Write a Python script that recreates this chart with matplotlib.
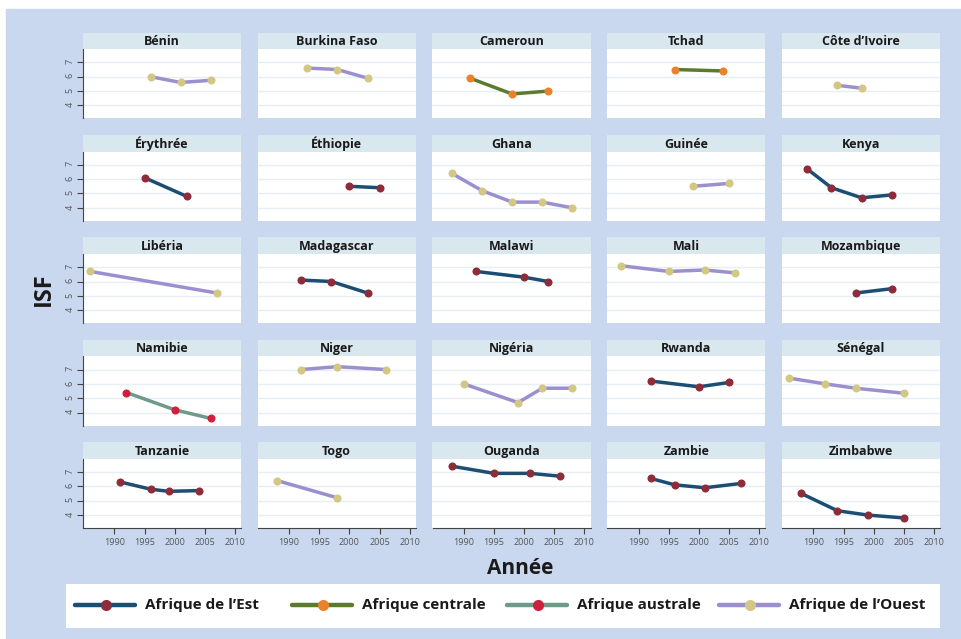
import matplotlib
matplotlib.use('Agg')
import matplotlib.pyplot as plt
from matplotlib.patches import Rectangle

# Pays dans l'ordre des panneaux (5 x 5)
pays = ['Bénin', 'Burkina Faso', 'Cameroun', 'Tchad', 'Côte d’Ivoire',
        'Érythrée', 'Éthiopie', 'Ghana', 'Guinée', 'Kenya',
        'Libéria', 'Madagascar', 'Malawi', 'Mali', 'Mozambique',
        'Namibie', 'Niger', 'Nigéria', 'Rwanda', 'Sénégal',
        'Tanzanie', 'Togo', 'Ouganda', 'Zambie', 'Zimbabwe']

regions = ['Ouest', 'Ouest', 'Centrale', 'Centrale', 'Ouest',
           'Est', 'Est', 'Ouest', 'Ouest', 'Est',
           'Ouest', 'Est', 'Est', 'Ouest', 'Est',
           'Australe', 'Ouest', 'Ouest', 'Est', 'Ouest',
           'Est', 'Ouest', 'Est', 'Est', 'Est']

annees = [[1996, 2001, 2006], [1993, 1998, 2003], [1991, 1998, 2004], [1996, 2004], [1994, 1998],
          [1995, 2002], [2000, 2005], [1988, 1993, 1998, 2003, 2008], [1999, 2005], [1989, 1993, 1998, 2003],
          [1986, 2007], [1992, 1997, 2003], [1992, 2000, 2004], [1987, 1995, 2001, 2006], [1997, 2003],
          [1992, 2000, 2006], [1992, 1998, 2006], [1990, 1999, 2003, 2008], [1992, 2000, 2005], [1986, 1992, 1997, 2005],
          [1991, 1996, 1999, 2004], [1988, 1998], [1988, 1995, 2001, 2006], [1992, 1996, 2001, 2007], [1988, 1994, 1999, 2005]]

isf = [[6.0, 5.6, 5.75], [6.6, 6.5, 5.9], [5.9, 4.8, 5.0], [6.5, 6.4], [5.4, 5.2],
       [6.1, 4.8], [5.5, 5.4], [6.4, 5.2, 4.4, 4.4, 4.0], [5.5, 5.7], [6.7, 5.4, 4.7, 4.9],
       [6.7, 5.2], [6.1, 6.0, 5.2], [6.7, 6.3, 6.0], [7.1, 6.7, 6.8, 6.6], [5.2, 5.5],
       [5.4, 4.2, 3.6], [7.0, 7.2, 7.0], [6.0, 4.7, 5.7, 5.7], [6.2, 5.8, 6.1], [6.4, 6.0, 5.7, 5.35],
       [6.3, 5.8, 5.65, 5.7], [6.4, 5.2], [7.4, 6.9, 6.9, 6.7], [6.55, 6.1, 5.9, 6.2], [5.5, 4.3, 4.0, 3.8]]

legende = ['Est', 'Centrale', 'Australe', 'Ouest']
legende_txt = ['Afrique de l’Est', 'Afrique centrale', 'Afrique australe', 'Afrique de l’Ouest']

# couleur de ligne, couleur de marqueur
couleurs = {'Est': ('#1b4e72', '#8e2c3a'),
            'Centrale': ('#5b7b2f', '#e9822b'),
            'Australe': ('#6e9a8a', '#cf1f3c'),
            'Ouest': ('#9b8fd0', '#d3c784')}

police = ['Liberation Sans Narrow', 'Open Sans', 'DejaVu Sans']
plt.rcParams['font.family'] = police

W, H = 962, 639
fig = plt.figure(figsize=(W / 100, H / 100), dpi=100, facecolor='white')


def boite(x, y, w, h):
    # position en pixels (origine en haut à gauche) -> coordonnées figure
    return [x / W, 1 - (y + h) / H, w / W, h / H]


fig.patches.append(Rectangle((6 / W, 0), 1 - 6 / W, 1 - 9 / H,
                             transform=fig.transFigure, color='#c9d8ee', zorder=-10))

x0, pas_x, larg = 83, 174.75, 158
y0, pas_y, h_bande, h_trace = 32.6, 102.4, 16.5, 69.3

for i, nom in enumerate(pays):
    lig, col = divmod(i, 5)
    gx = x0 + col * pas_x
    gy = y0 + lig * pas_y

    bande = fig.add_axes(boite(gx, gy, larg, h_bande))
    bande.set_facecolor('#d9e7ee')
    bande.set_xticks([])
    bande.set_yticks([])
    for s in bande.spines.values():
        s.set_visible(False)
    bande.text(0.5, 0.45, nom, ha='center', va='center', fontsize=9,
               fontweight='bold', color='#1a1a1a', transform=bande.transAxes)

    ax = fig.add_axes(boite(gx, gy + h_bande, larg, h_trace))
    ax.set_facecolor('white')
    ax.set_xlim(1984.8, 2011.0)
    ax.set_ylim(3.1, 7.92)
    ax.set_yticks([4, 5, 6, 7])
    ax.set_xticks([1990, 1995, 2000, 2005, 2010])
    ax.grid(axis='y', color='#e6eff6', lw=1.0)
    ax.set_axisbelow(True)
    for s in ax.spines.values():
        s.set_visible(False)

    if col == 0:
        ax.spines['left'].set_visible(True)
        ax.spines['left'].set_color('#444444')
        ax.tick_params(axis='y', length=4, color='#444444', labelsize=6.5,
                       labelcolor='#555555', labelrotation=90, pad=2)
    else:
        ax.tick_params(axis='y', length=0, labelleft=False)

    if lig == 4:
        ax.spines['bottom'].set_visible(True)
        ax.spines['bottom'].set_color('#444444')
        ax.tick_params(axis='x', length=4, color='#444444', labelsize=6.5,
                       labelcolor='#555555', pad=3)
    else:
        ax.tick_params(axis='x', length=0, labelbottom=False)

    c_ligne, c_point = couleurs[regions[i]]
    ax.plot(annees[i], isf[i], color=c_ligne, lw=2.5, solid_capstyle='round', zorder=3)
    ax.plot(annees[i], isf[i], 'o', color=c_point, ms=5.8, mec='none', zorder=4)

fig.text(44 / W, 1 - 289 / H, 'ISF', rotation=90, ha='center', va='center',
         fontsize=17, fontweight='bold', color='#1a1a1a')
fig.text(520 / W, 1 - 569 / H, 'Année', ha='center', va='center',
         fontsize=15, fontweight='bold', color='#1a1a1a')

# Légende dessinée dans un cadre blanc
leg = fig.add_axes(boite(66, 583.5, 874, 44))
leg.set_xlim(66, 940)
leg.set_ylim(627.5, 583.5)
leg.set_facecolor('white')
leg.set_xticks([])
leg.set_yticks([])
for s in leg.spines.values():
    s.set_visible(False)

debuts = [75, 292, 507, 719]
for reg, txt, xd in zip(legende, legende_txt, debuts):
    c_ligne, c_point = couleurs[reg]
    leg.plot([xd, xd + 60], [605, 605], color=c_ligne, lw=3.2, solid_capstyle='round')
    leg.plot([xd + 31], [605], 'o', color=c_point, ms=8, mec='none')
    leg.text(xd + 70, 605, txt, ha='left', va='center', fontsize=11,
             fontweight='bold', color='#1a1a1a')

fig.savefig('out.png', dpi=100, facecolor=fig.get_facecolor())
